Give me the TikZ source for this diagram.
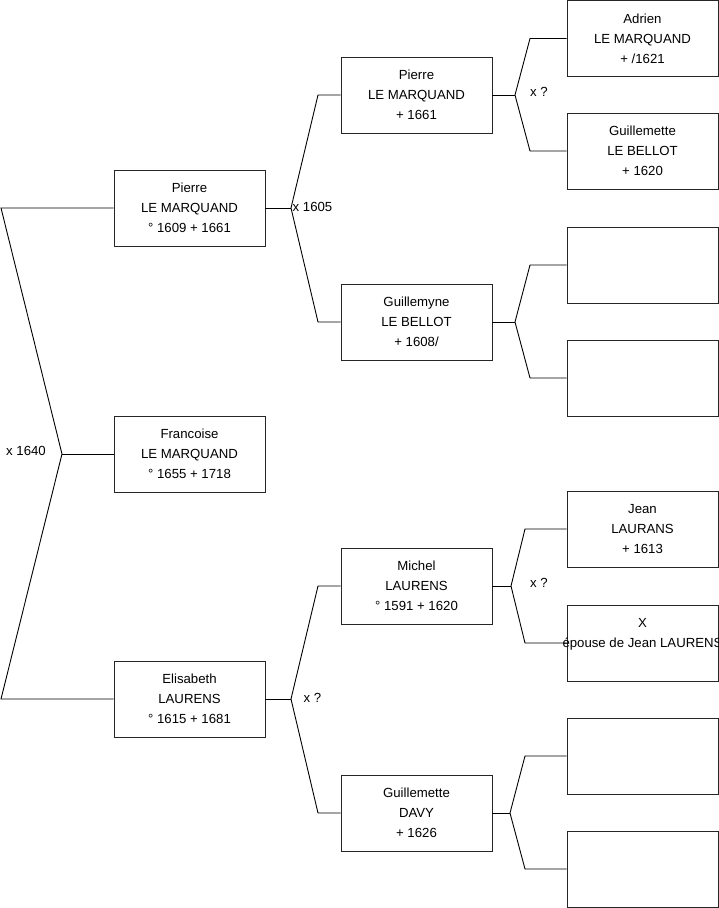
\documentclass[tikz,border=0pt]{standalone}
\usepackage{fontspec}
\setmainfont{Liberation Sans}
\begin{document}
\begin{tikzpicture}[x=1pt,y=-1pt,
  person/.style={draw=black!85,line width=0.9pt,minimum width=151pt,minimum height=76pt,inner sep=0pt,align=center,font=\fontsize{13.2}{20}\selectfont},
  conn/.style={draw=black,line width=0.9pt},
  lbl/.style={font=\fontsize{13.2}{15}\selectfont,inner sep=0pt}]
\useasboundingbox (0,0) rectangle (719,908);
% column 1
\node[person] (p1) at (189.5,208) {Pierre\\LE MARQUAND\\° 1609 + 1661};
\node[person] (f) at (189.5,454) {Francoise\\LE MARQUAND\\° 1655 + 1718};
\node[person] (e) at (189.5,699) {Elisabeth\\LAURENS\\° 1615 + 1681};
% column 2
\node[person] (pl) at (416.5,95) {Pierre\\LE MARQUAND\\+ 1661};
\node[person] (gm) at (416.5,322) {Guillemyne\\LE BELLOT\\+ 1608/};
\node[person] (ml) at (416.5,586) {Michel\\LAURENS\\° 1591 + 1620};
\node[person] (gd) at (416.5,813) {Guillemette\\DAVY\\+ 1626};
% column 3
\node[person] (a) at (642.5,38.5) {Adrien\\LE MARQUAND\\+ /1621};
\node[person] (g) at (642.5,151) {Guillemette\\LE BELLOT\\+ 1620};
\node[person] (b1) at (642.5,265) {};
\node[person] (b2) at (642.5,378) {};
\node[person] (j) at (642.5,529) {Jean\\LAURANS\\+ 1613};
\node[person] (xx) at (642.5,643) {};
\node[lbl,align=center,font=\fontsize{13.2}{20}\selectfont] (xxt) at (xx.center) {X\\épouse de Jean LAURENS\\\mbox{}};
\node[person] (b3) at (642.5,756) {};
\node[person] (b4) at (642.5,869) {};
% fork points
\coordinate (v0) at (62,454);
\coordinate (l1) at (1,208);
\coordinate (l2) at (1,699);
\coordinate (v1) at (291,208);
\coordinate (v1a) at (318,95);
\coordinate (v1b) at (318,322);
\coordinate (v2) at (291,699);
\coordinate (v2a) at (318,586);
\coordinate (v2b) at (318,813);
\coordinate (v3) at (515,95);
\coordinate (v3a) at (530,38.5);
\coordinate (v3b) at (530,151);
\coordinate (v4) at (515,322);
\coordinate (v4a) at (530,265);
\coordinate (v4b) at (530,378);
\coordinate (v5) at (511,586);
\coordinate (v5a) at (525,529);
\coordinate (v5b) at (525,643);
\coordinate (v6) at (510,813);
\coordinate (v6a) at (525,756);
\coordinate (v6b) at (525,869);
% connectors
\draw[conn] (p1.west) -- (l1) -- (v0) -- (l2) -- (e.west);
\draw[conn] (v0) -- (f.west);
\draw[conn] (p1.east) -- (v1);
\draw[conn] (pl.west) -- (v1a) -- (v1) -- (v1b) -- (gm.west);
\draw[conn] (e.east) -- (v2);
\draw[conn] (ml.west) -- (v2a) -- (v2) -- (v2b) -- (gd.west);
\draw[conn] (pl.east) -- (v3);
\draw[conn] (a.west) -- (v3a) -- (v3) -- (v3b) -- (g.west);
\draw[conn] (gm.east) -- (v4);
\draw[conn] (b1.west) -- (v4a) -- (v4) -- (v4b) -- (b2.west);
\draw[conn] (ml.east) -- (v5);
\draw[conn] (j.west) -- (v5a) -- (v5) -- (v5b) -- (xx.west);
\draw[conn] (gd.east) -- (v6);
\draw[conn] (b3.west) -- (v6a) -- (v6) -- (v6b) -- (b4.west);
% labels
\node[lbl] (m0) at (26,451) {x 1640};
\node[lbl,anchor=west] (m1) at (292.5,207) {x 1605};
\node[lbl] (m2) at (312.5,698) {x ?};
\node[lbl] (m3) at (539,92) {x ?};
\node[lbl] (m5) at (539,583) {x ?};
\end{tikzpicture}
\end{document}
